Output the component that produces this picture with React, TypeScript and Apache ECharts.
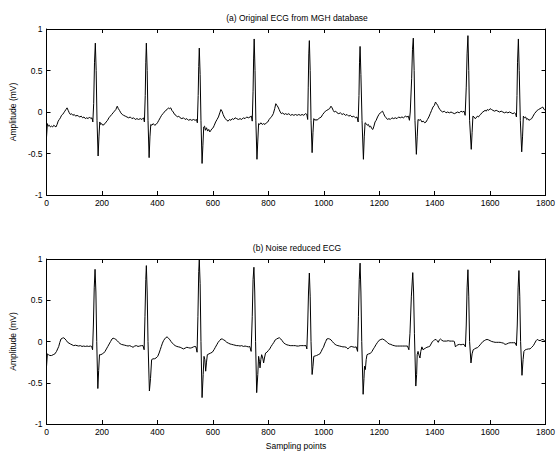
import React, { useEffect, useRef } from "react";
import * as echarts from "echarts";

const xTicks = { min: 0, max: 1800, interval: 200 };
const yTicks = { min: -1, max: 1, interval: 0.5 };

const titleTop = "(a) Original ECG from MGH database";
const titleBottom = "(b) Noise reduced ECG";
const yName = "Amplitude (mV)";
const xName = "Sampling points";

const originalEcg: [number, number][] = [
  [0,-0.30],[3,-0.14],[6,-0.17],[10,-0.16],[14,-0.18],[18,-0.17],[22,-0.18],[26,-0.16],[30,-0.17],[34,-0.18],[38,-0.15],[42,-0.11],[46,-0.09],[50,-0.07],[54,-0.04],[58,-0.03],[62,-0.01],[66,0.01],[70,0.03],[74,0.05],[78,0.02],[82,-0.01],[86,-0.03],[90,-0.02],[95,-0.04],[100,-0.03],[105,-0.05],[110,-0.04],[115,-0.05],[120,-0.06],[125,-0.05],[130,-0.07],[135,-0.06],[140,-0.08],[145,-0.07],[150,-0.08],[155,-0.06],[160,-0.08],[164,-0.07],[167,-0.12],[170,0.1],[173,0.6],[176,0.83],[179,0.5],[182,-0.1],[186,-0.53],[189,-0.3],[192,-0.12],[195,-0.15],[199,-0.14],[203,-0.16],[207,-0.15],[211,-0.14],[215,-0.12],[220,-0.10],[225,-0.07],[230,-0.05],[235,-0.03],[240,-0.01],[245,0.01],[250,0.03],[255,0.07],[259,0.04],[263,0.02],[268,-0.01],[273,-0.03],[278,-0.04],[284,-0.05],[290,-0.06],[296,-0.07],[302,-0.06],[308,-0.08],[314,-0.07],[320,-0.09],[326,-0.08],[332,-0.09],[338,-0.08],[344,-0.09],[350,-0.07],[353,-0.12],[356,0.2],[358,0.6],[360,0.83],[363,0.5],[366,-0.1],[370,-0.55],[373,-0.3],[376,-0.15],[380,-0.16],[385,-0.14],[390,-0.16],[395,-0.15],[400,-0.13],[405,-0.10],[410,-0.07],[415,-0.04],[420,-0.02],[425,0.0],[430,0.02],[435,0.03],[440,0.05],[444,0.04],[448,0.05],[452,0.02],[457,0.0],[462,-0.03],[467,-0.04],[472,-0.06],[477,-0.05],[482,-0.07],[488,-0.08],[494,-0.07],[500,-0.09],[506,-0.08],[512,-0.10],[518,-0.09],[524,-0.10],[530,-0.09],[536,-0.10],[541,-0.09],[544,-0.13],[547,0.2],[549,0.55],[551,0.77],[554,0.45],[557,-0.1],[561,-0.62],[564,-0.4],[567,-0.18],[570,-0.17],[573,-0.22],[577,-0.19],[581,-0.23],[585,-0.21],[589,-0.24],[593,-0.22],[597,-0.20],[601,-0.19],[605,-0.16],[610,-0.12],[615,-0.09],[620,-0.06],[625,-0.01],[629,0.03],[633,0.01],[637,-0.03],[641,-0.06],[645,-0.08],[650,-0.10],[655,-0.11],[660,-0.09],[665,-0.10],[670,-0.08],[675,-0.09],[680,-0.07],[686,-0.08],[692,-0.09],[698,-0.08],[704,-0.09],[710,-0.07],[716,-0.08],[722,-0.06],[728,-0.07],[734,-0.06],[739,-0.05],[742,-0.11],[745,0.25],[747,0.65],[749,0.88],[752,0.5],[755,-0.1],[759,-0.57],[762,-0.35],[765,-0.14],[769,-0.15],[773,-0.13],[778,-0.15],[783,-0.14],[788,-0.15],[793,-0.13],[798,-0.12],[803,-0.09],[808,-0.07],[813,-0.05],[818,-0.02],[823,0.04],[827,0.10],[831,0.08],[835,0.06],[839,0.03],[843,0.0],[847,-0.02],[852,-0.01],[857,-0.03],[862,-0.02],[868,-0.03],[874,-0.02],[880,-0.04],[886,-0.03],[892,-0.04],[898,-0.03],[904,-0.04],[910,-0.03],[916,-0.04],[922,-0.03],[928,-0.04],[934,-0.02],[939,-0.03],[942,-0.09],[944,0.3],[946,0.7],[948,0.86],[951,0.5],[954,-0.1],[958,-0.49],[961,-0.25],[964,-0.08],[968,-0.10],[972,-0.09],[976,-0.10],[981,-0.08],[986,-0.07],[991,-0.06],[996,-0.03],[1001,-0.01],[1006,0.01],[1011,0.02],[1016,0.03],[1021,0.04],[1026,0.07],[1030,0.05],[1034,0.02],[1038,0.0],[1043,0.01],[1048,-0.01],[1054,-0.02],[1060,-0.01],[1066,-0.03],[1072,-0.02],[1078,-0.04],[1084,-0.03],[1090,-0.05],[1096,-0.04],[1102,-0.06],[1108,-0.05],[1114,-0.07],[1120,-0.06],[1124,-0.12],[1127,0.2],[1129,0.6],[1131,0.79],[1134,0.45],[1138,-0.1],[1143,-0.57],[1146,-0.3],[1149,-0.13],[1153,-0.14],[1157,-0.16],[1161,-0.15],[1165,-0.18],[1169,-0.17],[1173,-0.20],[1177,-0.21],[1181,-0.17],[1185,-0.12],[1189,-0.10],[1194,-0.06],[1199,-0.03],[1204,-0.01],[1208,0.0],[1212,0.01],[1216,-0.02],[1220,-0.05],[1225,-0.07],[1230,-0.09],[1235,-0.08],[1240,-0.09],[1246,-0.07],[1252,-0.08],[1258,-0.07],[1264,-0.08],[1270,-0.06],[1276,-0.07],[1282,-0.06],[1288,-0.07],[1294,-0.05],[1300,-0.06],[1305,-0.05],[1309,-0.10],[1312,0.0],[1317,0.4],[1320,0.75],[1323,0.89],[1326,0.5],[1329,-0.1],[1334,-0.51],[1337,-0.3],[1340,-0.09],[1344,-0.10],[1349,-0.09],[1354,-0.12],[1359,-0.11],[1364,-0.13],[1369,-0.12],[1374,-0.09],[1379,-0.06],[1384,-0.02],[1389,0.02],[1394,0.06],[1399,0.08],[1403,0.12],[1407,0.10],[1411,0.08],[1415,0.05],[1419,0.03],[1424,0.01],[1429,0.0],[1435,0.01],[1441,-0.01],[1447,0.0],[1453,-0.01],[1459,0.0],[1465,-0.01],[1471,-0.02],[1477,-0.01],[1483,0.0],[1489,-0.01],[1495,0.01],[1501,0.0],[1506,0.01],[1510,-0.04],[1514,0.3],[1517,0.7],[1520,0.92],[1523,0.5],[1526,-0.1],[1532,-0.45],[1535,-0.25],[1538,-0.05],[1542,-0.06],[1546,-0.08],[1550,-0.07],[1554,-0.05],[1558,-0.06],[1562,-0.04],[1566,-0.03],[1570,-0.01],[1574,0.0],[1578,0.01],[1582,0.02],[1586,0.01],[1590,0.03],[1595,0.02],[1600,0.04],[1605,0.03],[1610,0.02],[1616,0.01],[1622,0.02],[1628,0.01],[1634,0.0],[1640,0.01],[1646,0.0],[1652,-0.01],[1658,0.0],[1664,-0.01],[1670,0.0],[1676,-0.01],[1682,-0.02],[1688,-0.01],[1692,-0.02],[1695,-0.06],[1697,0.2],[1699,0.6],[1702,0.88],[1705,0.5],[1709,-0.1],[1714,-0.48],[1717,-0.3],[1720,-0.05],[1724,-0.07],[1728,-0.06],[1732,-0.09],[1736,-0.08],[1740,-0.10],[1745,-0.09],[1750,-0.08],[1755,-0.05],[1760,-0.02],[1765,0.0],[1770,0.02],[1775,0.03],[1780,0.04],[1785,0.05],[1790,0.06],[1795,0.03],[1800,0.02]
];

const denoisedEcg: [number, number][] = [
  [0,-0.30],[3,-0.15],[7,-0.16],[12,-0.17],[18,-0.17],[24,-0.16],[30,-0.15],[36,-0.12],[40,-0.09],[44,-0.06],[48,-0.01],[52,0.03],[57,0.04],[62,0.045],[67,0.03],[72,0.01],[76,-0.01],[81,-0.02],[86,-0.03],[92,-0.04],[98,-0.05],[104,-0.045],[110,-0.05],[116,-0.055],[122,-0.05],[128,-0.06],[134,-0.055],[140,-0.06],[146,-0.055],[152,-0.06],[158,-0.055],[163,-0.06],[166,-0.10],[169,0.2],[172,0.65],[175,0.875],[178,0.6],[181,0.0],[185,-0.57],[188,-0.35],[191,-0.16],[196,-0.16],[201,-0.15],[206,-0.14],[211,-0.12],[216,-0.09],[221,-0.06],[226,-0.03],[231,0.0],[236,0.03],[240,0.04],[245,0.035],[250,0.025],[255,0.01],[260,-0.01],[265,-0.025],[270,-0.035],[276,-0.04],[282,-0.045],[288,-0.05],[294,-0.055],[300,-0.05],[306,-0.06],[312,-0.07],[318,-0.055],[324,-0.05],[330,-0.06],[336,-0.055],[342,-0.05],[348,-0.05],[352,-0.10],[355,0.3],[358,0.75],[360,0.92],[363,0.6],[366,0.0],[371,-0.60],[375,-0.45],[379,-0.22],[384,-0.21],[389,-0.21],[395,-0.20],[401,-0.18],[406,-0.14],[410,-0.10],[414,-0.06],[418,-0.02],[422,0.01],[426,0.03],[431,0.05],[435,0.055],[440,0.04],[445,0.02],[449,0.0],[454,-0.02],[458,-0.035],[464,-0.05],[470,-0.06],[476,-0.065],[482,-0.07],[488,-0.08],[494,-0.09],[500,-0.08],[506,-0.07],[512,-0.075],[518,-0.08],[524,-0.075],[530,-0.065],[535,-0.06],[539,-0.065],[543,-0.13],[546,0.3],[549,0.85],[551,0.99],[554,0.7],[557,0.0],[561,-0.68],[565,-0.4],[568,-0.18],[571,-0.22],[574,-0.36],[577,-0.25],[580,-0.16],[586,-0.15],[592,-0.14],[598,-0.13],[604,-0.10],[609,-0.07],[614,-0.04],[619,-0.01],[624,0.01],[629,0.03],[634,0.03],[639,0.02],[644,0.01],[650,-0.01],[656,-0.02],[662,-0.03],[668,-0.035],[674,-0.04],[680,-0.045],[686,-0.05],[692,-0.05],[698,-0.055],[704,-0.05],[710,-0.06],[716,-0.055],[722,-0.06],[728,-0.065],[733,-0.06],[738,-0.12],[742,0.3],[745,0.75],[748,0.90],[751,0.6],[754,0.0],[758,-0.62],[762,-0.4],[765,-0.18],[768,-0.24],[770,-0.32],[773,-0.22],[776,-0.16],[780,-0.20],[783,-0.26],[786,-0.20],[790,-0.14],[795,-0.13],[800,-0.11],[805,-0.09],[810,-0.06],[815,-0.035],[820,-0.01],[825,0.02],[830,0.03],[835,0.04],[840,0.045],[845,0.03],[850,0.01],[855,-0.015],[861,-0.03],[867,-0.04],[873,-0.045],[879,-0.05],[885,-0.05],[891,-0.05],[897,-0.05],[903,-0.055],[909,-0.055],[915,-0.05],[921,-0.05],[927,-0.05],[932,-0.05],[936,-0.05],[939,-0.09],[942,0.2],[945,0.6],[948,0.83],[951,0.55],[954,0.0],[958,-0.40],[961,-0.3],[964,-0.18],[969,-0.175],[974,-0.17],[980,-0.16],[986,-0.15],[991,-0.12],[995,-0.09],[999,-0.07],[1003,-0.03],[1007,0.0],[1011,0.03],[1016,0.035],[1021,0.03],[1026,0.02],[1031,0.0],[1036,-0.02],[1041,-0.035],[1046,-0.045],[1051,-0.05],[1057,-0.055],[1063,-0.06],[1069,-0.065],[1075,-0.065],[1081,-0.07],[1087,-0.09],[1093,-0.07],[1099,-0.06],[1105,-0.065],[1111,-0.07],[1117,-0.065],[1122,-0.12],[1125,0.3],[1128,0.75],[1131,0.95],[1134,0.6],[1137,0.0],[1142,-0.64],[1145,-0.45],[1147,-0.30],[1150,-0.34],[1153,-0.22],[1156,-0.16],[1162,-0.15],[1168,-0.145],[1174,-0.12],[1179,-0.09],[1183,-0.07],[1188,-0.04],[1194,-0.01],[1200,0.015],[1206,0.025],[1212,0.03],[1218,0.02],[1224,0.005],[1230,-0.015],[1236,-0.03],[1242,-0.035],[1248,-0.045],[1254,-0.05],[1260,-0.055],[1266,-0.055],[1272,-0.055],[1278,-0.055],[1284,-0.055],[1290,-0.055],[1296,-0.055],[1302,-0.055],[1307,-0.10],[1311,0.1],[1316,0.55],[1321,0.835],[1324,0.6],[1327,0.1],[1332,-0.54],[1335,-0.40],[1337,-0.16],[1340,-0.12],[1344,-0.17],[1347,-0.20],[1350,-0.12],[1354,-0.065],[1358,-0.10],[1362,-0.09],[1367,-0.08],[1372,-0.07],[1377,-0.065],[1382,-0.06],[1387,-0.03],[1392,0.0],[1396,0.01],[1400,0.02],[1405,0.025],[1409,0.01],[1413,-0.01],[1417,0.02],[1421,0.03],[1426,0.015],[1431,0.005],[1437,0.005],[1443,0.005],[1449,0.01],[1455,0.005],[1461,0.005],[1467,0.005],[1471,0.0],[1475,-0.065],[1479,-0.05],[1484,-0.04],[1489,-0.035],[1495,-0.04],[1501,-0.035],[1506,-0.035],[1511,-0.065],[1514,0.2],[1517,0.65],[1520,0.87],[1523,0.55],[1526,0.0],[1531,-0.26],[1535,-0.15],[1539,-0.10],[1544,-0.09],[1549,-0.08],[1554,-0.075],[1559,-0.06],[1564,-0.04],[1569,-0.02],[1574,0.0],[1579,0.01],[1584,0.02],[1589,0.025],[1594,0.02],[1600,0.01],[1606,0.0],[1612,-0.005],[1618,-0.01],[1624,-0.01],[1630,-0.01],[1636,-0.01],[1642,-0.015],[1648,-0.02],[1654,-0.035],[1660,-0.03],[1666,-0.02],[1672,-0.015],[1678,-0.015],[1684,-0.015],[1690,-0.015],[1695,-0.05],[1698,0.2],[1701,0.65],[1704,0.86],[1707,0.55],[1710,0.0],[1715,-0.41],[1719,-0.22],[1722,-0.12],[1727,-0.10],[1732,-0.095],[1738,-0.09],[1744,-0.09],[1750,-0.07],[1756,-0.05],[1761,-0.02],[1766,0.01],[1770,0.025],[1775,0.015],[1780,0.01],[1785,0.02],[1791,0.025],[1796,0.01],[1800,0.005]
];

const FONT = "'Liberation Sans', Arial, Helvetica, sans-serif";
const plain = (v: number) => String(v);

function makeAxes(gridIndex: number, withXName: boolean) {
  const tick = { show: true, inside: true, length: 4, lineStyle: { color: "#000", width: 1 } };
  const line = { show: true, onZero: false, lineStyle: { color: "#000", width: 1 } };
  const label = { show: true, fontSize: 8.5, color: "#000", fontFamily: FONT, formatter: plain };
  const xBottom: any = {
    type: "value", gridIndex, position: "bottom", ...xTicks,
    axisLine: line, axisTick: tick, splitLine: { show: false },
    axisLabel: { ...label, margin: 3 },
  };
  if (withXName) {
    Object.assign(xBottom, {
      name: xName, nameLocation: "middle", nameGap: 17,
      nameTextStyle: { fontSize: 8.5, color: "#000", fontFamily: FONT },
    });
  }
  const xTop = {
    type: "value", gridIndex, position: "top", ...xTicks,
    axisLine: line, axisTick: tick, splitLine: { show: false }, axisLabel: { show: false },
  };
  const yLeft = {
    type: "value", gridIndex, position: "left", ...yTicks,
    axisLine: line, axisTick: tick, splitLine: { show: false },
    axisLabel: { ...label, margin: 4 },
    name: yName, nameLocation: "middle", nameGap: 25,
    nameTextStyle: { fontSize: 8.5, color: "#000", fontFamily: FONT },
  };
  const yRight = {
    type: "value", gridIndex, position: "right", ...yTicks,
    axisLine: line, axisTick: tick, splitLine: { show: false }, axisLabel: { show: false },
  };
  return { x: [xBottom, xTop], y: [yLeft, yRight] };
}

export default function App() {
  const ref = useRef<HTMLDivElement>(null);
  useEffect(() => {
    if (!ref.current) return;
    const chart = echarts.init(ref.current, null, { renderer: "svg" });
    const a = makeAxes(0, false);
    const b = makeAxes(1, true);
    chart.setOption({
      animation: false,
      backgroundColor: "#fff",
      grid: [
        { left: 45, top: 29, width: 504, height: 166, containLabel: false },
        { left: 45, top: 259, width: 504, height: 166, containLabel: false },
      ],
      xAxis: [...a.x, ...b.x],
      yAxis: [...a.y, ...b.y],
      graphic: [
        { type: "text", x: 297, y: 18, style: { text: titleTop, fontSize: 8.5, fill: "#000", fontFamily: FONT, align: "center", verticalAlign: "middle" } },
        { type: "text", x: 297, y: 248, style: { text: titleBottom, fontSize: 8.5, fill: "#000", fontFamily: FONT, align: "center", verticalAlign: "middle" } },
      ],
      series: [
        { type: "line", xAxisIndex: 0, yAxisIndex: 0, data: originalEcg, showSymbol: false, lineStyle: { color: "#000", width: 1 }, silent: true },
        { type: "line", xAxisIndex: 2, yAxisIndex: 2, data: denoisedEcg, showSymbol: false, lineStyle: { color: "#000", width: 1 }, silent: true },
      ],
    });
    return () => chart.dispose();
  }, []);
  return <div ref={ref} style={{ position: "fixed", left: 0, top: 0, width: 558, height: 451, background: "#fff" }} />;
}
